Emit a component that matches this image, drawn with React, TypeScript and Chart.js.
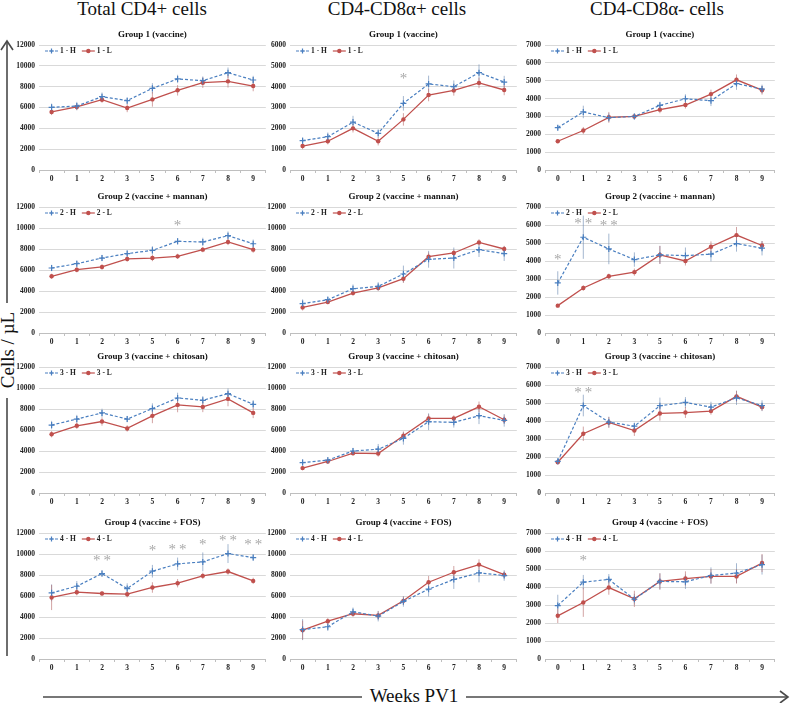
import React, { useEffect, useRef } from "react";
import { Chart, registerables } from "chart.js";

Chart.register(...registerables);
const FONT = "'Liberation Serif', 'Times New Roman', 'DejaVu Serif', serif";
Chart.defaults.font.family = FONT;

// ---------- data ----------
const weeks = ["0", "1", "2", "3", "5", "6", "7", "8", "9"];
const columnTitles = ["Total CD4+ cells", "CD4-CD8α+ cells", "CD4-CD8α- cells"];
const groupTitles = [
  "Group 1 (vaccine)",
  "Group 2 (vaccine + mannan)",
  "Group 3 (vaccine + chitosan)",
  "Group 4 (vaccine + FOS)",
];
const yAxisLabel = "Cells / µL";
const xAxisLabel = "Weeks PV1";

// Total CD4+ cells
const cd4G1H = [6020, 6140, 7040, 6660, 7840, 8740, 8580, 9340, 8640];
const cd4G1HErr = [350, 400, 400, 300, 500, 400, 400, 500, 400];
const cd4G1L = [5570, 6050, 6750, 5950, 6780, 7650, 8380, 8510, 8060];
const cd4G1LErr = [300, 300, 300, 400, 700, 500, 500, 600, 500];
const cd4G1Stars = ["", "", "", "", "", "", "", "", ""];
const cd4G1StarAt = [0, 0, 0, 0, 0, 0, 0, 0, 0];

const cd4G2H = [6190, 6600, 7140, 7560, 7870, 8730, 8670, 9270, 8500];
const cd4G2HErr = [300, 300, 300, 300, 400, 300, 400, 400, 400];
const cd4G2L = [5400, 6030, 6290, 7050, 7140, 7300, 7940, 8670, 7940];
const cd4G2LErr = [250, 250, 250, 250, 300, 250, 250, 300, 300];
const cd4G2Stars = ["", "", "", "", "", "*", "", "", ""];
const cd4G2StarAt = [0, 0, 0, 0, 0, 10500, 0, 0, 0];

const cd4G3H = [6470, 7040, 7630, 7040, 8040, 9050, 8830, 9460, 8450];
const cd4G3HErr = [400, 400, 400, 300, 500, 500, 400, 500, 400];
const cd4G3L = [5600, 6400, 6810, 6150, 7350, 8390, 8200, 8960, 7630];
const cd4G3LErr = [300, 300, 400, 300, 700, 700, 500, 700, 500];
const cd4G3Stars = ["", "", "", "", "", "", "", "", ""];
const cd4G3StarAt = [0, 0, 0, 0, 0, 0, 0, 0, 0];

const cd4G4H = [6300, 6930, 8140, 6710, 8360, 9060, 9250, 10040, 9660];
const cd4G4HErr = [800, 500, 300, 500, 600, 600, 900, 900, 300];
const cd4G4L = [5860, 6360, 6240, 6170, 6810, 7220, 7920, 8330, 7440];
const cd4G4LErr = [1200, 300, 200, 300, 500, 400, 300, 300, 300];
const cd4G4Stars = ["", "", "**", "", "*", "**", "*", "**", "**"];
const cd4G4StarAt = [0, 0, 9660, 0, 10600, 10700, 11100, 11560, 11100];

// CD4-CD8α+ cells
const pG1H = [1410, 1600, 2300, 1760, 3200, 4130, 4000, 4670, 4220];
const pG1HErr = [150, 200, 300, 200, 350, 400, 300, 400, 300];
const pG1L = [1150, 1380, 2000, 1380, 2430, 3600, 3820, 4180, 3840];
const pG1LErr = [150, 150, 200, 200, 300, 300, 250, 250, 250];
const pG1Stars = ["", "", "", "", "*", "", "", "", ""];
const pG1StarAt = [0, 0, 0, 0, 4500, 0, 0, 0, 0];

const pG2H = [2800, 3170, 4220, 4440, 5620, 7020, 7140, 7940, 7560];
const pG2HErr = [400, 300, 400, 400, 800, 800, 1000, 700, 700];
const pG2L = [2440, 2950, 3800, 4290, 5170, 7270, 7620, 8630, 8000];
const pG2LErr = [300, 200, 250, 250, 400, 400, 300, 300, 300];
const pG2Stars = ["", "", "", "", "", "", "", "", ""];
const pG2StarAt = [0, 0, 0, 0, 0, 0, 0, 0, 0];

const pG3H = [2900, 3130, 4000, 4170, 5200, 6790, 6730, 7360, 6920];
const pG3HErr = [300, 300, 300, 500, 600, 800, 500, 800, 600];
const pG3L = [2370, 3000, 3790, 3760, 5460, 7100, 7100, 8210, 6980];
const pG3LErr = [200, 200, 200, 300, 400, 400, 300, 500, 400];
const pG3Stars = ["", "", "", "", "", "", "", "", ""];
const pG3StarAt = [0, 0, 0, 0, 0, 0, 0, 0, 0];

const pG4H = [2800, 3070, 4500, 4080, 5480, 6650, 7570, 8200, 7950];
const pG4HErr = [1000, 400, 400, 500, 500, 700, 900, 900, 500];
const pG4L = [2750, 3600, 4310, 4150, 5540, 7310, 8260, 8990, 8040];
const pG4LErr = [900, 300, 300, 400, 400, 600, 600, 500, 300];
const pG4Stars = ["", "", "", "", "", "", "", "", ""];
const pG4StarAt = [0, 0, 0, 0, 0, 0, 0, 0, 0];

// CD4-CD8α- cells
const nG1H = [2370, 3250, 2930, 3000, 3620, 3990, 3880, 4840, 4530];
const nG1HErr = [150, 350, 250, 150, 200, 250, 300, 350, 250];
const nG1L = [1610, 2210, 2950, 3000, 3380, 3640, 4250, 5050, 4470];
const nG1LErr = [100, 200, 300, 150, 200, 200, 250, 300, 250];
const nG1Stars = ["", "", "", "", "", "", "", "", ""];
const nG1StarAt = [0, 0, 0, 0, 0, 0, 0, 0, 0];

const nG2H = [2780, 5320, 4670, 4080, 4340, 4300, 4380, 4970, 4710];
const nG2HErr = [650, 1200, 850, 400, 500, 450, 400, 450, 400];
const nG2L = [1520, 2500, 3150, 3380, 4340, 4000, 4790, 5440, 4860];
const nG2LErr = [100, 150, 150, 200, 500, 250, 300, 450, 250];
const nG2Stars = ["*", "**", "**", "", "", "", "", "", ""];
const nG2StarAt = [4200, 6200, 6100, 0, 0, 0, 0, 0, 0];

const nG3H = [1760, 4860, 3940, 3710, 4850, 5030, 4770, 5290, 4850];
const nG3HErr = [150, 600, 300, 200, 450, 300, 300, 400, 300];
const nG3L = [1710, 3290, 3920, 3470, 4420, 4470, 4550, 5370, 4770];
const nG3LErr = [100, 400, 300, 300, 400, 300, 200, 300, 200];
const nG3Stars = ["", "**", "", "", "", "", "", "", ""];
const nG3StarAt = [0, 5700, 0, 0, 0, 0, 0, 0, 0];

const nG4H = [2970, 4270, 4420, 3320, 4310, 4290, 4640, 4770, 5240];
const nG4HErr = [600, 400, 300, 300, 450, 400, 450, 550, 550];
const nG4L = [2400, 3140, 3970, 3340, 4310, 4470, 4590, 4590, 5330];
const nG4LErr = [400, 800, 400, 450, 450, 400, 400, 400, 500];
const nG4Stars = ["", "*", "", "", "", "", "", "", ""];
const nG4StarAt = [0, 5600, 0, 0, 0, 0, 0, 0, 0];

// axis ranges per panel [col][row]
const axisMax = [
  [12000, 12000, 12000, 12000],
  [6000, 12000, 12000, 12000],
  [7000, 7000, 7000, 7000],
];
const axisStep = [
  [2000, 2000, 2000, 2000],
  [1000, 2000, 2000, 2000],
  [1000, 1000, 1000, 1000],
];

const panelData = [
  [
    [cd4G1H, cd4G1HErr, cd4G1L, cd4G1LErr, cd4G1Stars, cd4G1StarAt],
    [cd4G2H, cd4G2HErr, cd4G2L, cd4G2LErr, cd4G2Stars, cd4G2StarAt],
    [cd4G3H, cd4G3HErr, cd4G3L, cd4G3LErr, cd4G3Stars, cd4G3StarAt],
    [cd4G4H, cd4G4HErr, cd4G4L, cd4G4LErr, cd4G4Stars, cd4G4StarAt],
  ],
  [
    [pG1H, pG1HErr, pG1L, pG1LErr, pG1Stars, pG1StarAt],
    [pG2H, pG2HErr, pG2L, pG2LErr, pG2Stars, pG2StarAt],
    [pG3H, pG3HErr, pG3L, pG3LErr, pG3Stars, pG3StarAt],
    [pG4H, pG4HErr, pG4L, pG4LErr, pG4Stars, pG4StarAt],
  ],
  [
    [nG1H, nG1HErr, nG1L, nG1LErr, nG1Stars, nG1StarAt],
    [nG2H, nG2HErr, nG2L, nG2LErr, nG2Stars, nG2StarAt],
    [nG3H, nG3HErr, nG3L, nG3LErr, nG3Stars, nG3StarAt],
    [nG4H, nG4HErr, nG4L, nG4LErr, nG4Stars, nG4StarAt],
  ],
];

// ---------- layout / style ----------
const COL_PLOT = [
  [39, 269],
  [290, 520],
  [545, 778],
];
const ROW_PLOT = [
  [45, 170],
  [207, 333],
  [367, 493],
  [533, 659],
];
const Y_AXIS_W = 36;
const PAD_L = 4;
const PAD_R = 2;
const PAD_T = 20;
const X_AXIS_H = 16;

const BLUE = "#4a7fc0";
const RED = "#c0504d";
const BLUE_ERR = "rgba(110,140,180,0.7)";
const RED_ERR = "rgba(185,110,110,0.7)";

const decoPlugin = {
  id: "panelDeco",
  beforeDatasetsDraw(chart: any) {
    const ctx = chart.ctx;
    const ys = chart.scales.y;
    ctx.save();
    chart.data.datasets.forEach((ds: any, i: number) => {
      const meta = chart.getDatasetMeta(i);
      ctx.strokeStyle = ds.errColor;
      ctx.lineWidth = 0.9;
      ds.data.forEach((v: number, j: number) => {
        const e = ds.errors[j];
        const x = meta.data[j].x;
        ctx.beginPath();
        ctx.moveTo(x, ys.getPixelForValue(v + e));
        ctx.lineTo(x, ys.getPixelForValue(Math.max(0, v - e)));
        ctx.stroke();
      });
    });
    ctx.restore();
  },
  afterDraw(chart: any, _args: any, opts: any) {
    const ctx = chart.ctx;
    const area = chart.chartArea;
    const ys = chart.scales.y;
    ctx.save();
    // title
    ctx.fillStyle = "#111";
    ctx.font = `bold 9px ${FONT}`;
    ctx.textAlign = "center";
    ctx.textBaseline = "middle";
    ctx.fillText(opts.title, (area.left + area.right) / 2, area.top - 10);

    // legend
    let lx = area.left + 6;
    const ly = area.top + 6;
    ctx.font = `bold 7.5px ${FONT}`;
    ctx.textAlign = "left";
    chart.data.datasets.forEach((ds: any) => {
      ctx.strokeStyle = ds.borderColor;
      ctx.lineWidth = 1.2;
      ctx.setLineDash(ds.borderDash || []);
      ctx.beginPath();
      ctx.moveTo(lx, ly);
      ctx.lineTo(lx + 13, ly);
      ctx.stroke();
      ctx.setLineDash([]);
      const mx = lx + 6.5;
      if (ds.pointStyle === "cross") {
        ctx.beginPath();
        ctx.moveTo(mx - 2.5, ly);
        ctx.lineTo(mx + 2.5, ly);
        ctx.moveTo(mx, ly - 2.5);
        ctx.lineTo(mx, ly + 2.5);
        ctx.stroke();
      } else {
        ctx.fillStyle = ds.backgroundColor;
        ctx.beginPath();
        ctx.arc(mx, ly, 2.2, 0, Math.PI * 2);
        ctx.fill();
      }
      ctx.fillStyle = "#222";
      ctx.fillText(ds.label, lx + 15, ly + 0.5);
      lx += 15 + ctx.measureText(ds.label).width + 6;
    });

    // significance stars
    const m0 = chart.getDatasetMeta(0);
    ctx.fillStyle = "#a8a8a8";
    ctx.font = `15px ${FONT}`;
    ctx.textAlign = "center";
    ctx.textBaseline = "alphabetic";
    opts.stars.forEach((s: string, j: number) => {
      if (!s) return;
      const y = ys.getPixelForValue(opts.starAt[j]);
      ctx.fillText(s.split("").join("\u2009"), m0.data[j].x, y + 7);
    });
    ctx.restore();
  },
};

type PanelProps = { col: number; row: number };

function Panel({ col, row }: PanelProps) {
  const ref = useRef<HTMLCanvasElement>(null);
  const [pl, pr] = COL_PLOT[col];
  const [pt, pb] = ROW_PLOT[row];
  const left = pl - Y_AXIS_W - PAD_L;
  const top = pt - PAD_T;
  const width = pr - left + PAD_R;
  const height = pb - top + X_AXIS_H;

  useEffect(() => {
    const [h, hErr, l, lErr, stars, starAt] = panelData[col][row] as any[];
    const g = row + 1;
    const chart = new Chart(ref.current as HTMLCanvasElement, {
      type: "line",
      data: {
        labels: weeks,
        datasets: [
          {
            label: `${g} - H`,
            data: h,
            errors: hErr,
            errColor: BLUE_ERR,
            borderColor: BLUE,
            backgroundColor: BLUE,
            borderDash: [3, 2],
            borderWidth: 1.2,
            pointStyle: "cross",
            pointRadius: 3,
            pointBorderWidth: 1.2,
            tension: 0,
          } as any,
          {
            label: `${g} - L`,
            data: l,
            errors: lErr,
            errColor: RED_ERR,
            borderColor: RED,
            backgroundColor: RED,
            borderWidth: 1.3,
            pointStyle: "circle",
            pointRadius: 2.2,
            pointBorderWidth: 0,
            tension: 0,
          } as any,
        ],
      },
      options: {
        animation: false,
        responsive: true,
        maintainAspectRatio: false,
        events: [],
        layout: { padding: { top: PAD_T, left: PAD_L, right: PAD_R, bottom: 0 } },
        plugins: {
          legend: { display: false },
          tooltip: { enabled: false },
          panelDeco: { title: groupTitles[row], stars, starAt },
        } as any,
        scales: {
          x: {
            type: "category",
            offset: true,
            grid: {
              display: true,
              drawOnChartArea: false,
              drawTicks: true,
              tickLength: 3,
              color: "#bfbfbf",
              offset: true,
            },
            border: { display: true, color: "#bfbfbf" },
            ticks: {
              color: "#222",
              font: { family: FONT, size: 7.5, weight: "bold" },
              padding: 2,
              maxRotation: 0,
            },
            afterFit: (s: any) => {
              s.height = X_AXIS_H;
            },
          },
          y: {
            min: 0,
            max: axisMax[col][row],
            ticks: {
              stepSize: axisStep[col][row],
              color: "#222",
              font: { family: FONT, size: 7.5, weight: "bold" },
              padding: 4,
              callback: (v: any) => String(v),
            },
            grid: { color: "#d9d9d9", lineWidth: 1, drawTicks: false },
            border: { display: false },
            afterFit: (s: any) => {
              s.width = Y_AXIS_W;
            },
          },
        },
      } as any,
      plugins: [decoPlugin],
    });
    return () => chart.destroy();
  }, [col, row]);

  return (
    <div style={{ position: "absolute", left, top, width, height }}>
      <canvas ref={ref} />
    </div>
  );
}

export default function App() {
  const titleCenters = [142, 397, 657];
  const cells: React.ReactNode[] = [];
  for (let c = 0; c < 3; c++) {
    for (let r = 0; r < 4; r++) {
      cells.push(<Panel key={`${c}-${r}`} col={c} row={r} />);
    }
  }
  return (
    <div
      style={{
        position: "absolute",
        left: 0,
        top: 0,
        width: 791,
        height: 703,
        background: "#fff",
        overflow: "hidden",
        fontFamily: FONT,
      }}
    >
      {columnTitles.map((t, i) => (
        <div
          key={t}
          style={{
            position: "absolute",
            left: titleCenters[i] - 100,
            width: 200,
            top: -2,
            textAlign: "center",
            fontSize: 19,
            color: "#111",
            lineHeight: "22px",
          }}
        >
          {t}
        </div>
      ))}
      <svg
        width={791}
        height={703}
        style={{ position: "absolute", left: 0, top: 0 }}
      >
        <g stroke="#4a4a4a" strokeWidth={1.6} fill="none">
          <line x1={7} y1={42} x2={7} y2={303} />
          <line x1={7} y1={398} x2={7} y2={656} />
          <polyline points="1,50 7,41 13,50" />
          <line x1={43} y1={697} x2={362} y2={697} />
          <line x1={466} y1={697} x2={787} y2={697} />
          <polyline points="780,691 788,697 780,703" />
        </g>
      </svg>
      <div
        style={{
          position: "absolute",
          left: 8 - 60,
          top: 350 - 11,
          width: 120,
          height: 22,
          lineHeight: "22px",
          textAlign: "center",
          fontSize: 19,
          color: "#111",
          transform: "rotate(-90deg)",
        }}
      >
        {yAxisLabel}
      </div>
      <div
        style={{
          position: "absolute",
          left: 414 - 60,
          top: 685,
          width: 120,
          textAlign: "center",
          fontSize: 19,
          lineHeight: "22px",
          color: "#111",
        }}
      >
        {xAxisLabel}
      </div>
      {cells}
    </div>
  );
}
